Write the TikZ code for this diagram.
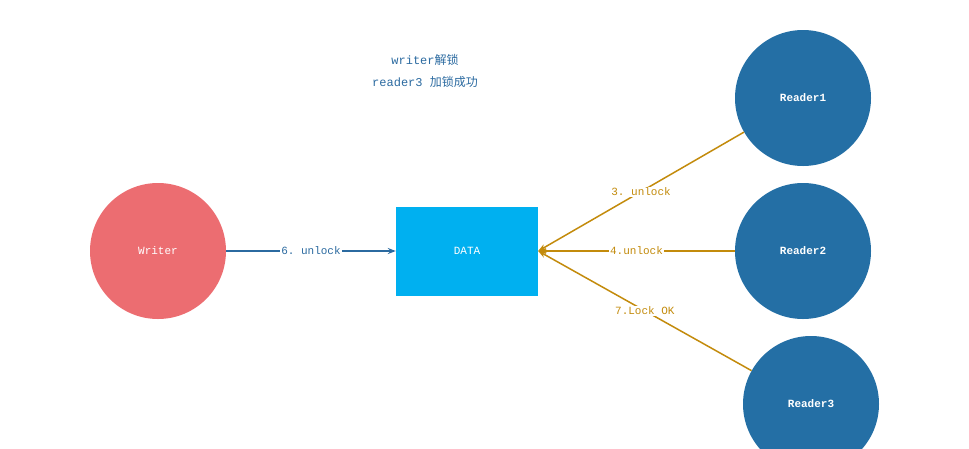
\documentclass[tikz,border=0pt]{standalone}
\usepackage{fontspec}
\setmonofont{Liberation Mono}
\newfontfamily\cjk{Noto Sans CJK SC}
\usetikzlibrary{positioning,arrows.meta}
\definecolor{wred}{HTML}{EC6D71}
\definecolor{dblue}{HTML}{00B0F0}
\definecolor{rblue}{HTML}{246FA5}
\definecolor{lgold}{HTML}{C38B0C}
\definecolor{lblue}{HTML}{2B6AA0}
\tikzset{
  reader/.style={circle,fill=rblue,minimum size=136pt,inner sep=0pt,text=white,font=\ttfamily\bfseries\fontsize{11}{13}\selectfont},
  lbl/.style={fill=white,inner sep=1pt,font=\ttfamily\fontsize{11}{13}\selectfont},
}
\begin{document}
\begin{tikzpicture}[x=1pt,y=-1pt]
  \useasboundingbox (0,0) rectangle (969,448);
  \node[circle,fill=wred,minimum size=136pt,inner sep=0pt,text=white,font=\ttfamily\fontsize{11}{13}\selectfont] (writer) at (158,251) {Writer};
  \node[fill=dblue,minimum width=142pt,minimum height=89pt,text=white,font=\ttfamily\fontsize{11}{13}\selectfont] (data) at (467,251) {DATA};
  \node[reader] (r1) at (803,98) {Reader1};
  \node[reader] (r2) at (803,251) {Reader2};
  \node[reader] (r3) at (811,404) {Reader3};
  \node[text=lblue,align=center,font=\ttfamily\fontsize{12}{22}\selectfont] (title) at (425,71) {writer{\cjk 解锁}\\reader3 {\cjk 加锁成功}};
  \draw[lblue,line width=1.5pt,-{Stealth[length=8pt]}] (writer) -- node[lbl,text=lblue] {6. unlock} (data);
  \draw[lgold,line width=1.5pt,-{Stealth[length=8pt]}] (r1) -- node[lbl,text=lgold] {3. unlock} (data.east);
  \draw[lgold,line width=1.5pt,-{Stealth[length=8pt]}] (r2) -- node[lbl,text=lgold] {4.unlock} (data.east);
  \draw[lgold,line width=1.5pt,-{Stealth[length=8pt]}] (r3) -- node[lbl,text=lgold] {7.Lock OK} (data.east);
\end{tikzpicture}
\end{document}
